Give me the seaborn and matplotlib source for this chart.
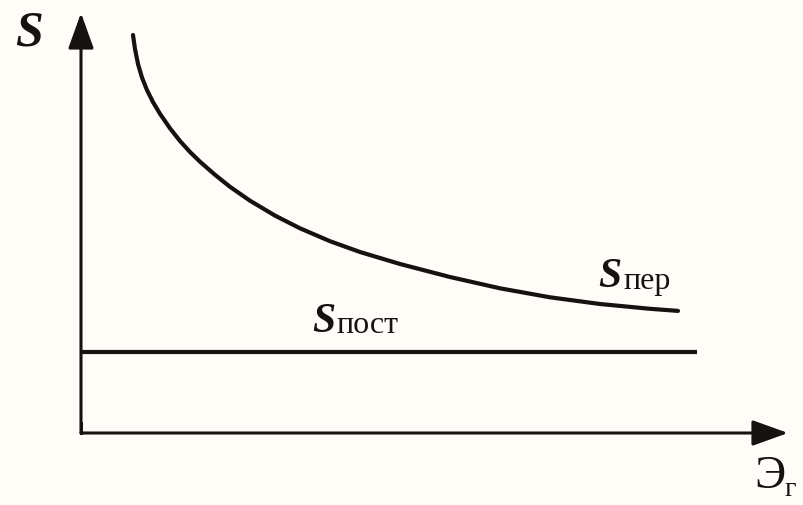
import matplotlib
matplotlib.use("Agg")
import matplotlib.pyplot as plt
import seaborn as sns
import pandas as pd

# Data (arbitrary units, origin at axes crossing)
E_var = [5.2, 5.4, 5.7, 6.1, 6.6, 7.2, 7.9, 8.9, 9.9, 10.9, 11.9, 13.4, 14.9,
         16.9, 19.4, 21.9, 24.9, 27.9, 31.9, 36.9, 41.9, 46.9, 51.9, 56.9,
         59.7]
S_var = [39.8, 38.4, 36.9, 35.54, 34.29, 33.09, 31.92, 30.47, 29.20, 28.10,
         27.13, 25.82, 24.62, 23.23, 21.74, 20.47, 19.18, 18.10, 16.90, 15.60,
         14.47, 13.57, 12.90, 12.42, 12.21]
E_const = [0.0, 61.6]
S_const = [8.1, 8.1]

label_var = ("S", "пер")
label_const = ("S", "пост")
label_y = "S"
label_x = ("Э", "г")

ink = "#161210"
bg = "#fefdf8"

sns.set_style("white")
plt.rcParams["font.family"] = ["Liberation Serif", "DejaVu Serif"]

fig = plt.figure(figsize=(8.04, 5.05), dpi=100, facecolor=bg)
ax = fig.add_axes([0, 0, 1, 1])
ax.set_facecolor(bg)
ax.set_xlim(-8.1, 72.3)
ax.set_ylim(-7.2, 43.3)
ax.axis("off")

df_var = pd.DataFrame({"E": E_var, "S": S_var})
df_const = pd.DataFrame({"E": E_const, "S": S_const})
sns.lineplot(data=df_var, x="E", y="S", ax=ax, color=ink, lw=3.0,
             sort=False, solid_capstyle="round", solid_joinstyle="round")
sns.lineplot(data=df_const, x="E", y="S", ax=ax, color=ink, lw=3.0,
             solid_capstyle="butt")

# axes with arrows
arrow = dict(arrowstyle="-|>,head_length=1.0,head_width=0.36",
             mutation_scale=22, lw=2.2, color=ink, shrinkA=0, shrinkB=0)
ax.annotate("", xy=(0, 42.0), xytext=(0, 0), arrowprops=arrow)
ax.annotate("", xy=(70.7, 0), xytext=(0, 0), arrowprops=arrow)
ax.plot([0, 0], [0, 1], color=ink, lw=2.2, solid_capstyle="projecting")

# labels
ax.text(-6.6, 38.8, label_y, fontsize=36, fontstyle="italic",
        fontweight="bold", color=ink, va="baseline", ha="left")
ax.text(51.7, 14.6, label_var[0], fontsize=30, fontstyle="italic",
        fontweight="bold", color=ink, va="baseline", ha="left")
ax.text(54.2, 14.4, label_var[1], fontsize=23, color=ink,
        va="baseline", ha="left")
ax.text(23.1, 10.1, label_const[0], fontsize=30, fontstyle="italic",
        fontweight="bold", color=ink, va="baseline", ha="left")
ax.text(25.5, 10.0, label_const[1], fontsize=23, color=ink,
        va="baseline", ha="left")
ax.text(67.3, -2.2, label_x[0], fontsize=34, color=ink,
        va="top", ha="left")
ax.text(70.3, -4.4, label_x[1], fontsize=20, color=ink,
        va="top", ha="left")

fig.savefig("out.png", dpi=100, facecolor=bg)
